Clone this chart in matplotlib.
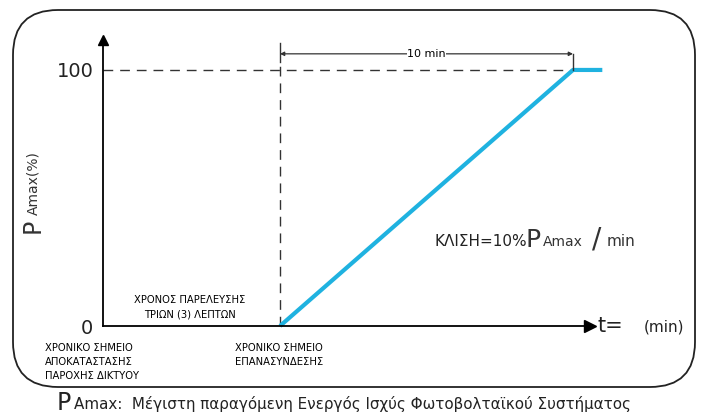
import matplotlib.pyplot as plt
from matplotlib.patches import FancyBboxPatch

# ramp after reconnection (minutes, % of PAmax)
t_ramp = [3, 13, 14]
p_ramp = [0, 100, 100]
t_reconnect = 3
t_full = 13
p_max = 100
y_ticks = [0, 100]
y_tick_labels = ["0", "100"]

blue = "#1fb2e0"
font = ["DejaVu Sans"]

fig = plt.figure(figsize=(7.05, 4.18), dpi=100)

# background layer in pixel coordinates: frame and captions
bg = fig.add_axes([0, 0, 1, 1])
bg.set_xlim(0, 705)
bg.set_ylim(418, 0)
bg.axis("off")
bg.add_patch(FancyBboxPatch((13, 10), 682, 377,
                            boxstyle="round,pad=0,rounding_size=45",
                            fill=False, lw=1.3, ec="#222222"))

# chart axes
ax = fig.add_axes([103 / 705, 92 / 418, 487 / 705, 286 / 418])
ax.set_xlim(-3.04, 13.58)
ax.set_ylim(0, 111.7)
ax.patch.set_visible(False)
for s in ["top", "right"]:
    ax.spines[s].set_visible(False)
ax.spines["left"].set_linewidth(1.3)
ax.spines["bottom"].set_linewidth(1.3)
ax.set_xticks([])
ax.set_yticks(y_ticks)
ax.set_yticklabels(y_tick_labels, fontsize=14, family=font, color="#222222")
ax.tick_params(axis="y", length=0, pad=7)

# axis arrowheads
ax.plot(1, 0, ">", color="black", ms=9, transform=ax.transAxes, clip_on=False)
ax.plot(0, 1, "^", color="black", ms=7, transform=ax.transAxes, clip_on=False)

# dashed guides
ax.plot([-3.04, t_full], [p_max, p_max], color="#333333", lw=1, dashes=(7, 5))
ax.plot([t_reconnect, t_reconnect], [0, 103], color="#333333", lw=1, dashes=(7, 5))
ax.plot([t_reconnect, t_reconnect], [103, 110.5], color="#333333", lw=1)

# ramp
ax.plot(t_ramp, p_ramp, color=blue, lw=3, solid_capstyle="butt", clip_on=False)

# 10 min dimension
ax.plot([t_full, t_full], [p_max, 106.3], color="#333333", lw=1)
ax.annotate("", xy=(t_reconnect, 106.3), xytext=(t_full, 106.3),
            arrowprops=dict(arrowstyle="<|-|>", color="#333333", lw=0.9,
                            mutation_scale=6, shrinkA=0, shrinkB=0))
ax.text((t_reconnect + t_full) / 2, 106.3, "10 min", ha="center", va="center",
        fontsize=8, family=font, bbox=dict(fc="white", ec="none", pad=0.5))

# axis titles
bg.text(33, 233, "P", rotation=90, fontsize=17, family=font, ha="center", va="bottom", color="#333333")
bg.text(33, 215, "Amax(%)", rotation=90, fontsize=10, family=font, ha="center", va="bottom", color="#333333")
bg.text(598, 326, "t=", fontsize=15, family=font, ha="left", va="center", color="#222222")
bg.text(644, 327, "(min)", fontsize=11, family=font, ha="left", va="center", color="#222222")

# slope label
bg.text(435, 241, "ΚΛΙΣΗ=10%", fontsize=11, family=font, ha="left", va="center", color="#222222")
bg.text(526, 240, "P", fontsize=18, family=font, ha="left", va="center", color="#333333")
bg.text(543, 242, "Amax", fontsize=10, family=font, ha="left", va="center", color="#333333")
bg.text(592, 240, "/", fontsize=20, family=font, ha="left", va="center", color="#333333")
bg.text(607, 242, "min", fontsize=11, family=font, ha="left", va="center", color="#333333")

# annotations
small = dict(fontsize=7.2, family=font, color="#000000", linespacing=1.53)
bg.text(190, 307, "ΧΡΟΝΟΣ ΠΑΡΕΛΕΥΣΗΣ\nΤΡΙΩΝ (3) ΛΕΠΤΩΝ", ha="center", va="center", **small)
bg.text(45, 362, "ΧΡΟΝΙΚΟ ΣΗΜΕΙΟ\nΑΠΟΚΑΤΑΣΤΑΣΗΣ\nΠΑΡΟΧΗΣ ΔΙΚΤΥΟΥ", ha="left", va="center", **small)
bg.text(235, 355, "ΧΡΟΝΙΚΟ ΣΗΜΕΙΟ\nΕΠΑΝΑΣΥΝΔΕΣΗΣ", ha="left", va="center", **small)

# caption under the frame
bg.text(57, 403, "P", fontsize=17, family=font, ha="left", va="center", color="#222222")
bg.text(74, 404, "Amax:  Μέγιστη παραγόμενη Ενεργός Ισχύς Φωτοβολταϊκού Συστήματος",
        fontsize=10.9, family=font, ha="left", va="center", color="#222222")

fig.savefig("out.png", dpi=100)
